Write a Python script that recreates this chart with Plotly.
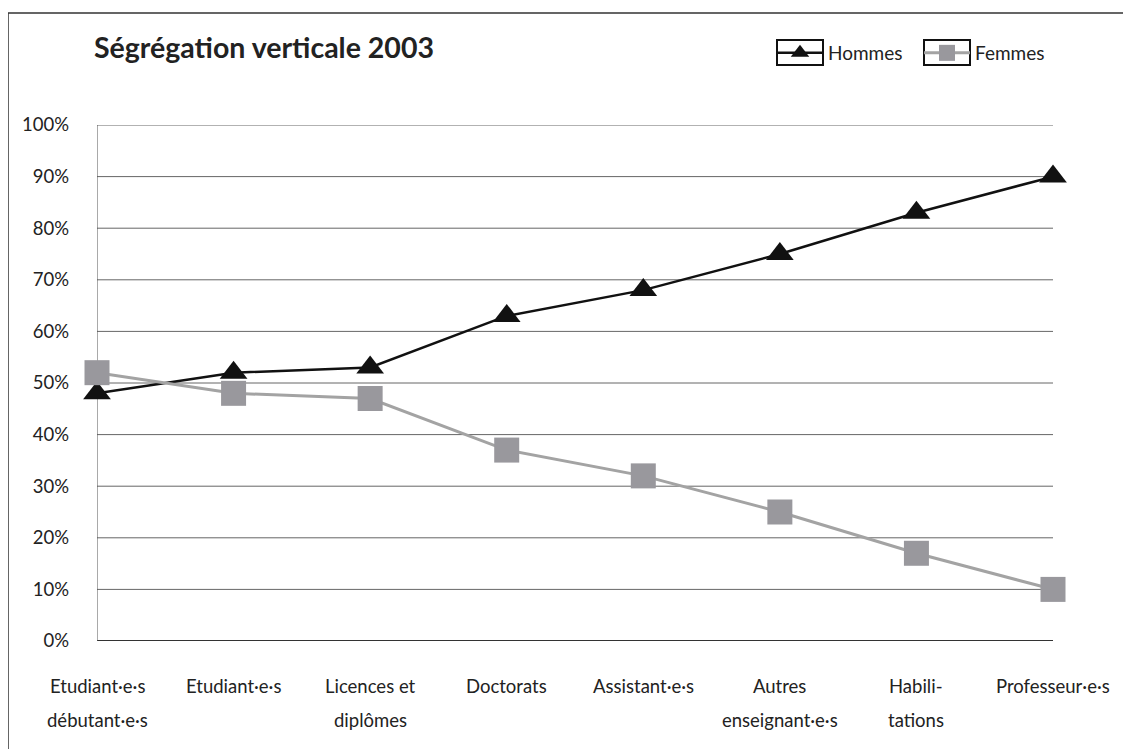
import plotly.graph_objects as go

categories = ["Etudiant·e·s\ndébutant·e·s", "Etudiant·e·s", "Licences et\ndiplômes", "Doctorats",
              "Assistant·e·s", "Autres\nenseignant·e·s", "Habili-\ntations", "Professeur·e·s"]
hommes = [48, 52, 53, 63, 68, 75, 83, 90]
femmes = [52, 48, 47, 37, 32, 25, 17, 10]
y_ticks = [0, 10, 20, 30, 40, 50, 60, 70, 80, 90, 100]

FONT = "Lato"
TXT = "#222222"
W, H = 1131, 749
xs = list(range(len(categories)))

# screen px -> paper (page has an 8px body margin)
def px(sx):
    return (sx - 97) / 956

def py(sy):
    return (641 - sy) / 516

fig = go.Figure()
fig.add_trace(go.Scatter(
    x=xs, y=hommes, name="Hommes", mode="lines+markers", cliponaxis=False,
    line=dict(color="#111111", width=2.5),
    marker=dict(symbol="triangle-up", size=24, color="#111111"),
))
fig.add_trace(go.Scatter(
    x=xs, y=femmes, name="Femmes", mode="lines+markers", cliponaxis=False,
    line=dict(color="#a3a3a3", width=3),
    marker=dict(symbol="square", size=25, color="#99989d"),
))

annotations = []
for i, lab in enumerate(categories):
    for j, line in enumerate(lab.split("\n")):
        annotations.append(dict(
            x=i, xref="x", y=py(686 + 34 * j), yref="paper", yanchor="middle",
            text=line, showarrow=False,
            font=dict(family=FONT, size=18.5, color=TXT),
        ))
annotations.append(dict(
    x=px(92), xref="paper", y=py(47), yref="paper", xanchor="left", yanchor="middle",
    text="<b>Ségrégation verticale 2003</b>", showarrow=False,
    font=dict(family=FONT, size=28.5, color=TXT),
))

shapes = [
    dict(type="rect", xref="paper", yref="paper",
         x0=px(8), x1=1.3, y0=-0.5, y1=py(13),
         line=dict(color="#333333", width=1.5), layer="below"),
]
for t in y_ticks:
    shapes.append(dict(type="line", xref="x", yref="y", x0=0, x1=7, y0=t, y1=t,
                       line=dict(color="#333333" if t == 0 else "#666666",
                                 width=2 if t == 0 else 1), layer="below"))
shapes.append(dict(type="line", xref="x", yref="y", x0=0, x1=0, y0=0, y1=100,
                   line=dict(color="#555555", width=1), layer="below"))
# legend key frames
for x0 in (777, 924):
    shapes.append(dict(type="rect", xref="paper", yref="paper",
                       x0=px(x0), x1=px(x0 + 46), y0=py(65), y1=py(40),
                       line=dict(color="#111111", width=2), layer="above"))

fig.update_layout(
    width=W, height=H,
    margin=dict(l=89, r=86, t=117, b=116),
    paper_bgcolor="white", plot_bgcolor="white",
    font=dict(family=FONT, size=16, color=TXT),
    xaxis=dict(range=[0, 7], showgrid=False, zeroline=False, showticklabels=False,
               showline=False, fixedrange=True),
    yaxis=dict(range=[0, 100], tickvals=y_ticks, ticktext=[f"{v}%" for v in y_ticks],
               showgrid=False, zeroline=False, showline=False, ticks="",
               ticklabelstandoff=27, fixedrange=True, tickfont=dict(size=18.5, color=TXT)),
    showlegend=True,
    legend=dict(orientation="h", xref="container", yref="container",
                x=(772 - 8) / W, xanchor="left", y=1 - (53 - 8) / H, yanchor="middle",
                font=dict(family=FONT, size=19, color=TXT),
                itemwidth=46, entrywidth=86, bgcolor="rgba(0,0,0,0)"),
    annotations=annotations,
    shapes=shapes,
)
fig.write_html("out.html")
